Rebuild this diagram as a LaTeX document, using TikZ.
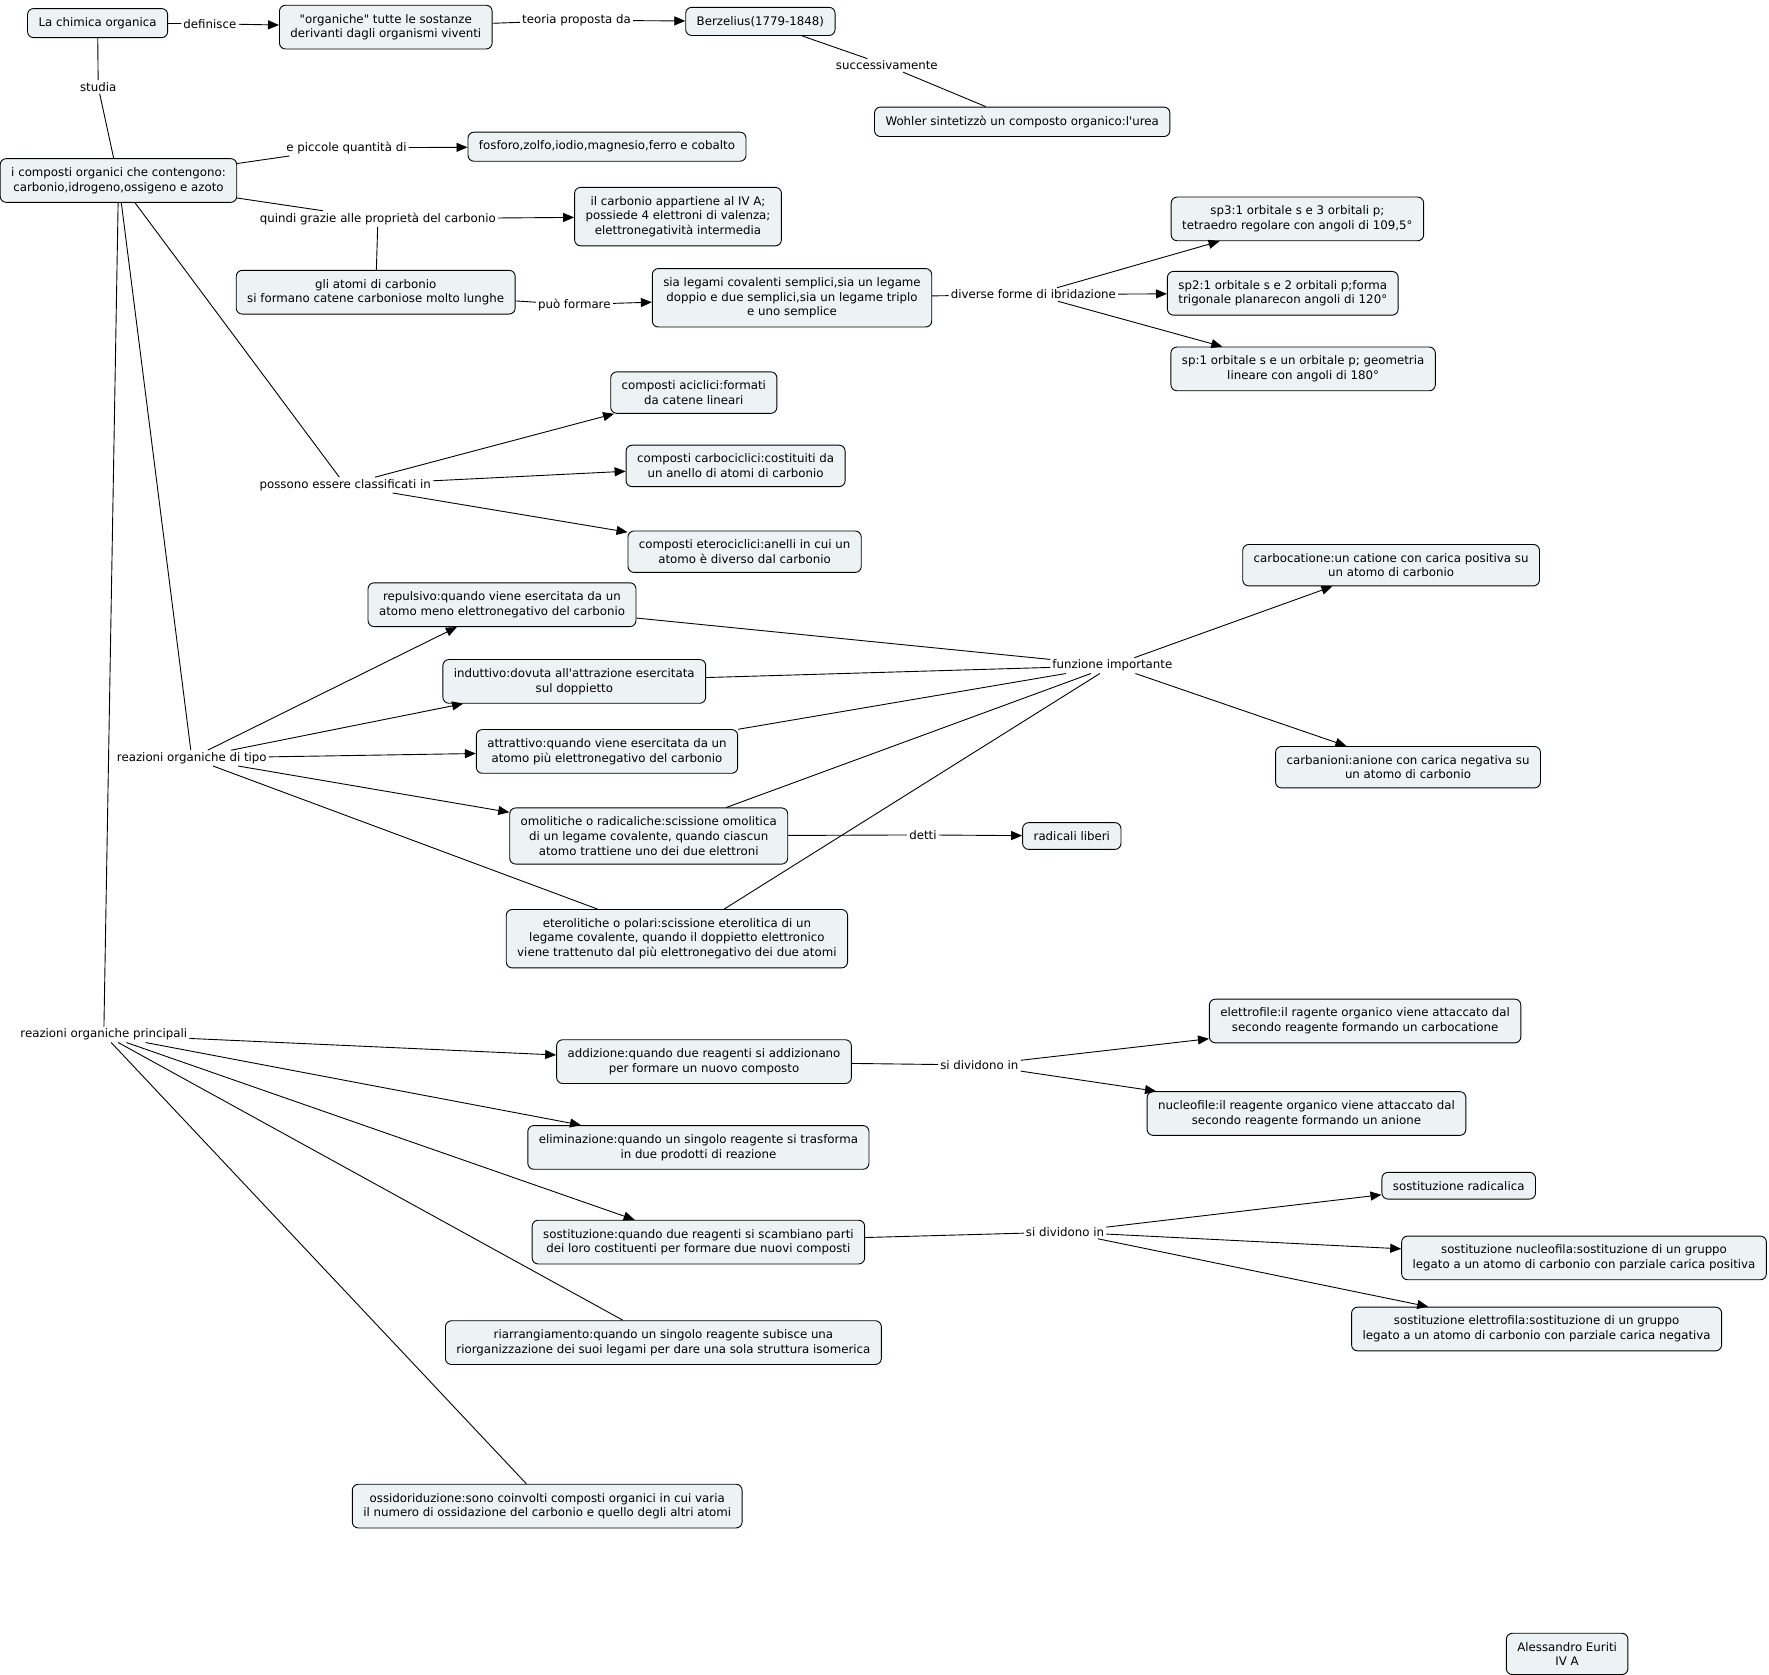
\documentclass[tikz,border=0pt]{standalone}
\usepackage{fontspec}
\newfontfamily\mapfont{DejaVu Sans}
\usetikzlibrary{arrows.meta}
\definecolor{boxfill}{HTML}{EDF3F5}
\tikzset{
  concept/.style={draw, line width=0.9pt, rounded corners=6pt, fill=boxfill, align=center,
    inner xsep=11pt, inner ysep=8.8pt, font=\mapfont\fontsize{11.8}{14.7}\selectfont},
  lbl/.style={inner sep=2pt, font=\mapfont\fontsize{11.8}{14.7}\selectfont},
  ln/.style={line width=0.9pt},
  arr/.style={line width=0.9pt, -{Triangle[length=11pt,width=9pt]}}
}
\begin{document}
\begin{tikzpicture}[x=1pt,y=-1pt]
\useasboundingbox (0,0) rectangle (1769,1675);
% concepts
\node[concept] (n1) at (97.6,23.1) {La chimica organica};
\node[concept] (n2) at (385.8,27.1) {"organiche" tutte le sostanze\\derivanti dagli organismi viventi};
\node[concept] (n3) at (760.4,21.4) {Berzelius(1779-1848)};
\node[concept] (n4) at (1022.2,121.8) {Wohler sintetizzò un composto organico:l\textquotesingle urea};
\node[concept] (n5) at (118.5,180.5) {i composti organici che contengono:\\carbonio,idrogeno,ossigeno e azoto};
\node[concept] (n6) at (607.0,146.7) {fosforo,zolfo,iodio,magnesio,ferro e cobalto};
\node[concept] (n7) at (678.0,216.6) {il carbonio appartiene al IV A;\\possiede 4 elettroni di valenza;\\elettronegatività intermedia};
\node[concept] (n8) at (375.7,292.2) {gli atomi di carbonio\\si formano catene carboniose molto lunghe};
\node[concept] (n9) at (792.0,297.8) {sia legami covalenti semplici,sia un legame\\doppio e due semplici,sia un legame triplo\\e uno semplice};
\node[concept] (n10) at (1297.4,218.9) {sp3:1 orbitale s e 3 orbitali p;\\tetraedro regolare con angoli di 109,5°};
\node[concept] (n11) at (1282.8,293.3) {sp2:1 orbitale s e 2 orbitali p;forma\\trigonale planarecon angoli di 120°};
\node[concept] (n12) at (1303.1,368.9) {sp:1 orbitale s e un orbitale p; geometria\\lineare con angoli di 180°};
\node[concept] (n13) at (693.8,392.6) {composti aciclici:formati\\da catene lineari};
\node[concept] (n14) at (735.6,465.9) {composti carbociclici:costituiti da\\un anello di atomi di carbonio};
\node[concept] (n15) at (744.6,551.7) {composti eterociclici:anelli in cui un\\atomo è diverso dal carbonio};
\node[concept] (n16) at (1391.1,565.2) {carbocatione:un catione con carica positiva su\\un atomo di carbonio};
\node[concept] (n17) at (502.0,604.7) {repulsivo:quando viene esercitata da un\\atomo meno elettronegativo del carbonio};
\node[concept] (n18) at (574.3,681.4) {induttivo:dovuta all\textquotesingle attrazione esercitata\\sul doppietto};
\node[concept] (n19) at (607.0,751.4) {attrattivo:quando viene esercitata da un\\atomo più elettronegativo del carbonio};
\node[concept] (n20) at (1408.0,767.2) {carbanioni:anione con carica negativa su\\un atomo di carbonio};
\node[concept] (n21) at (648.7,836.0) {omolitiche o radicaliche:scissione omolitica\\di un legame covalente, quando ciascun\\atomo trattiene uno dei due elettroni};
\node[concept] (n22) at (1071.8,836.0) {radicali liberi};
\node[concept] (n23) at (676.9,938.7) {eterolitiche o polari:scissione eterolitica di un\\legame covalente, quando il doppietto elettronico\\viene trattenuto dal più elettronegativo dei due atomi};
\node[concept] (n24) at (1365.1,1021.0) {elettrofile:il ragente organico viene attaccato dal\\secondo reagente formando un carbocatione};
\node[concept] (n25) at (704.0,1061.6) {addizione:quando due reagenti si addizionano\\per formare un nuovo composto};
\node[concept] (n26) at (1306.5,1113.5) {nucleofile:il reagente organico viene attaccato dal\\secondo reagente formando un anione};
\node[concept] (n27) at (698.4,1147.4) {eliminazione:quando un singolo reagente si trasforma\\in due prodotti di reazione};
\node[concept] (n28) at (1458.7,1185.7) {sostituzione radicalica};
\node[concept] (n29) at (698.4,1242.1) {sostituzione:quando due reagenti si scambiano parti\\dei loro costituenti per formare due nuovi composti};
\node[concept] (n30) at (1584.0,1257.9) {sostituzione nucleofila:sostituzione di un gruppo\\legato a un atomo di carbonio con parziale carica positiva};
\node[concept] (n31) at (1536.6,1329.0) {sostituzione elettrofila:sostituzione di un gruppo\\legato a un atomo di carbonio con parziale carica negativa};
\node[concept] (n32) at (663.4,1342.6) {riarrangiamento:quando un singolo reagente subisce una\\riorganizzazione dei suoi legami per dare una sola struttura isomerica};
\node[concept] (n33) at (547.2,1506.1) {ossidoriduzione:sono coinvolti composti organici in cui varia\\il numero di ossidazione del carbonio e quello degli altri atomi};
\node[concept] (n34) at (1567.1,1653.9) {Alessandro Euriti\\IV A};
% linking phrases
\node[lbl] (ldef) at (209.9,23.7) {definisce};
\node[lbl] (lteo) at (576.5,20.3) {teoria proposta da};
\node[lbl] (lsuc) at (886.8,65.4) {successivamente};
\node[lbl] (lstu) at (98.2,86.9) {studia};
\node[lbl] (lpic) at (346.4,147.8) {e piccole quantità di};
\node[lbl] (lqui) at (377.9,218.9) {quindi grazie alle proprietà del carbonio};
\node[lbl] (lpuo) at (574.3,304.6) {può formare};
\node[lbl] (ldiv) at (1033.4,294.5) {diverse forme di ibridazione};
\node[lbl] (lpos) at (345.2,485.1) {possono essere classificati in};
\node[lbl] (lfun) at (1112.4,665.6) {funzione importante};
\node[lbl] (ltip) at (191.8,758.1) {reazioni organiche di tipo};
\node[lbl] (ldet) at (922.9,834.9) {detti};
\node[lbl] (lpri) at (103.8,1034.6) {reazioni organiche principali};
\node[lbl] (lsd1) at (979.3,1065.0) {si dividono in};
\node[lbl] (lsd2) at (1065.0,1232.0) {si dividono in};
% connectors
\draw[ln] (n1) -- (ldef); \draw[arr] (ldef) -- (n2);
\draw[ln] (n2) -- (lteo); \draw[arr] (lteo) -- (n3);
\draw[ln] (n3) -- (lsuc); \draw[ln] (lsuc) -- (n4);
\draw[ln] (n1) -- (lstu); \draw[ln] (lstu) -- (n5);
\draw[ln] (n5) -- (lpic); \draw[arr] (lpic) -- (n6);
\draw[ln] (n5) -- (lqui); \draw[arr] (lqui) -- (n7);
\draw[ln] (n8) -- (lqui);
\draw[ln] (n8) -- (lpuo); \draw[arr] (lpuo) -- (n9);
\draw[ln] (n9) -- (ldiv);
\draw[arr] (ldiv) -- (n10); \draw[arr] (ldiv) -- (n11); \draw[arr] (ldiv) -- (n12);
\draw[ln] (n5) -- (lpos);
\draw[arr] (lpos) -- (n13); \draw[arr] (lpos) -- (n14); \draw[arr] (lpos) -- (n15);
\draw[ln] (n5) -- (ltip);
\draw[arr] (ltip) -- (n17); \draw[arr] (ltip) -- (n18); \draw[arr] (ltip) -- (n19);
\draw[arr] (ltip) -- (n21); \draw[ln] (ltip) -- (n23);
\draw[ln] (n17) -- (lfun); \draw[ln] (n18) -- (lfun); \draw[ln] (n19) -- (lfun);
\draw[ln] (n21) -- (lfun); \draw[ln] (n23) -- (lfun);
\draw[arr] (lfun) -- (n16); \draw[arr] (lfun) -- (n20);
\draw[ln] (n21) -- (ldet); \draw[arr] (ldet) -- (n22);
\draw[ln] (n5) -- (lpri);
\draw[arr] (lpri) -- (n25); \draw[arr] (lpri) -- (n27); \draw[arr] (lpri) -- (n29);
\draw[ln] (lpri) -- (n32); \draw[ln] (lpri) -- (n33);
\draw[ln] (n25) -- (lsd1); \draw[arr] (lsd1) -- (n24); \draw[arr] (lsd1) -- (n26);
\draw[ln] (n29) -- (lsd2);
\draw[arr] (lsd2) -- (n28); \draw[arr] (lsd2) -- (n30); \draw[arr] (lsd2) -- (n31);
\end{tikzpicture}
\end{document}
